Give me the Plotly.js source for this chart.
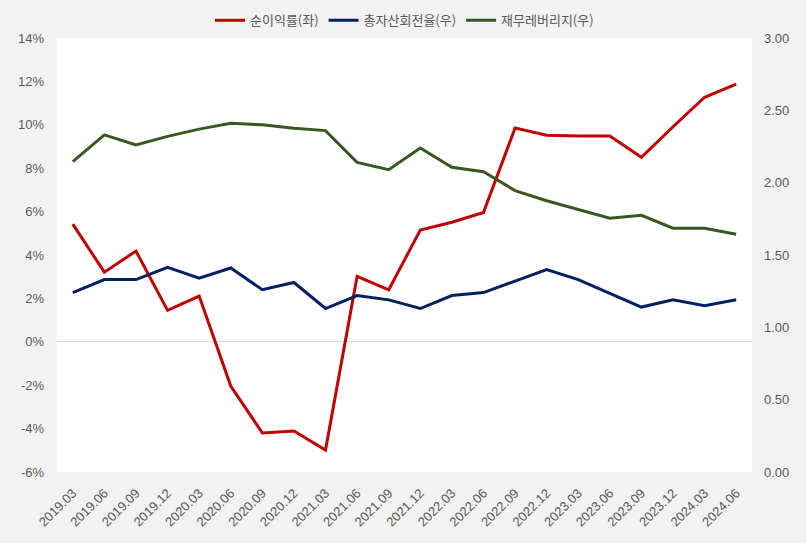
<!DOCTYPE html>
<html>
<head>
<meta charset="utf-8">
<script src="https://cdn.plot.ly/plotly-3.0.1.min.js"></script>
<style>html,body{margin:0;padding:0;background:#f2f2f2;}#chart{width:806px;height:543px;}</style>
</head>
<body>
<div id="chart"></div>
<script>
const periods = ["2019.03","2019.06","2019.09","2019.12","2020.03","2020.06","2020.09","2020.12","2021.03","2021.06","2021.09","2021.12","2022.03","2022.06","2022.09","2022.12","2023.03","2023.06","2023.09","2023.12","2024.03","2024.06"];
const netMargin = [5.42,3.21,4.18,1.45,2.11,-2.04,-4.2,-4.11,-4.99,3.02,2.39,5.15,5.51,5.96,9.85,9.52,9.48,9.48,8.5,9.91,11.27,11.87];
const assetTurnover = [1.24,1.33,1.33,1.415,1.34,1.41,1.26,1.31,1.13,1.22,1.19,1.13,1.22,1.24,1.32,1.40,1.33,1.235,1.14,1.19,1.15,1.19];
const leverage = [2.145,2.33,2.26,2.32,2.37,2.41,2.40,2.376,2.36,2.14,2.09,2.24,2.106,2.076,1.945,1.875,1.815,1.754,1.774,1.685,1.685,1.643];
const names = ["순이익률(좌)","총자산회전율(우)","재무레버리지(우)"];
const colors = ["#C00000","#002060","#385723"];
const leftTickVals = [-6,-4,-2,0,2,4,6,8,10,12,14];
const leftTickText = ["-6%","-4%","-2%","0%","2%","4%","6%","8%","10%","12%","14%"];

const traces = [
  {x: periods, y: netMargin, name: names[0], type: "scatter", mode: "lines", line: {color: colors[0], width: 3}, yaxis: "y"},
  {x: periods, y: assetTurnover, name: names[1], type: "scatter", mode: "lines", line: {color: colors[1], width: 3}, yaxis: "y2"},
  {x: periods, y: leverage, name: names[2], type: "scatter", mode: "lines", line: {color: colors[2], width: 3}, yaxis: "y2"}
];
const tickFont = {family: "'Liberation Sans', Arial, sans-serif", size: 13, color: "#595959"};
const legFont = {family: "'Noto Sans CJK KR', 'Noto Sans', sans-serif", size: 13, color: "#595959"};
const layout = {
  width: 806, height: 543,
  paper_bgcolor: "#f2f2f2", plot_bgcolor: "#ffffff",
  margin: {l: 57, r: 54, t: 38, b: 71},
  font: tickFont,
  showlegend: true,
  legend: {orientation: "h", x: 0.5, xanchor: "center", y: 0.935, yanchor: "bottom", yref: "container", font: legFont, bgcolor: "rgba(0,0,0,0)"},
  xaxis: {type: "category", range: [-0.5, 21.5], tickangle: -45, showgrid: false, zeroline: false, showline: false, ticks: "", tickfont: tickFont, ticklabelstandoff: 10},
  yaxis: {range: [-6, 14], tickmode: "array", tickvals: leftTickVals, ticktext: leftTickText, showgrid: false, zeroline: true, zerolinecolor: "#d9d9d9", zerolinewidth: 1, showline: false, ticks: "", tickfont: tickFont, ticklabelstandoff: 12},
  yaxis2: {range: [0, 3], dtick: 0.5, tickformat: ".2f", overlaying: "y", side: "right", showgrid: false, zeroline: false, showline: false, ticks: "", tickfont: tickFont, ticklabelstandoff: 11}
};
Plotly.newPlot("chart", traces, layout, {displayModeBar: false, staticPlot: true});
</script>
</body>
</html>
